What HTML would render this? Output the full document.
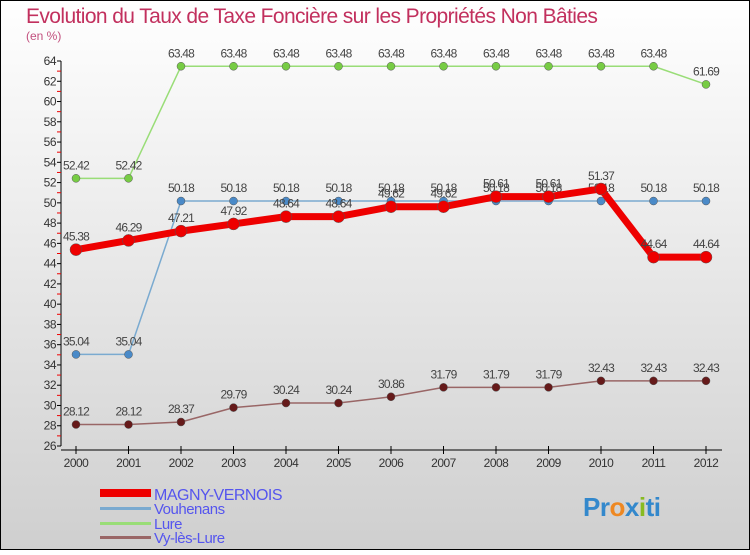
<!DOCTYPE html>
<html><head><meta charset="utf-8"><style>
html,body{margin:0;padding:0}
body{width:750px;height:550px;overflow:hidden;font-family:"Liberation Sans",sans-serif}
</style></head><body>
<svg id="c" width="750" height="550" xmlns="http://www.w3.org/2000/svg">
<defs><linearGradient id="bg" x1="0" y1="0" x2="0" y2="1"><stop offset="0" stop-color="#ffffff"/><stop offset="1" stop-color="#cfcfcf"/></linearGradient></defs>
<rect x="0.5" y="0.5" width="749" height="549" fill="url(#bg)" stroke="#000"/>
<text x="26" y="23" font-size="21" fill="#c2305e" letter-spacing="-0.6">Evolution du Taux de Taxe Foncière sur les Propriétés Non Bâties</text>
<text x="26" y="40" font-size="12" fill="#c2507e">(en %)</text>
<g id="axes"></g><g id="series"></g>
<g>
<rect x="100" y="489" width="51" height="8" fill="#ee0000"/>
<text x="154" y="500" font-size="16" fill="#5555ee" letter-spacing="-0.5">MAGNY-VERNOIS</text>
<rect x="100" y="507" width="51" height="3" fill="#7aaad0"/>
<text x="154" y="514" font-size="15" fill="#5555ee" letter-spacing="-0.5">Vouhenans</text>
<rect x="100" y="522" width="51" height="3" fill="#99dd77"/>
<text x="154" y="529" font-size="15" fill="#5555ee" letter-spacing="-0.5">Lure</text>
<rect x="100" y="536" width="51" height="3" fill="#996666"/>
<text x="154" y="543" font-size="15" fill="#5555ee" letter-spacing="-0.5">Vy-lès-Lure</text>
</g>
<g><text x="583" y="516" font-size="26" font-weight="bold" letter-spacing="-0.5"><tspan fill="#3388cc">Pr</tspan><tspan fill="#ee8822">o</tspan><tspan fill="#3388cc">x</tspan><tspan fill="#88bb22">i</tspan><tspan fill="#3388cc">ti</tspan></text></g>
</svg>
<script>
const years=["2000","2001","2002","2003","2004","2005","2006","2007","2008","2009","2010","2011","2012"];
const magny=[45.38,46.29,47.21,47.92,48.64,48.64,49.62,49.62,50.61,50.61,51.37,44.64,44.64];
const vouhenans=[35.04,35.04,50.18,50.18,50.18,50.18,50.18,50.18,50.18,50.18,50.18,50.18,50.18];
const lure=[52.42,52.42,63.48,63.48,63.48,63.48,63.48,63.48,63.48,63.48,63.48,63.48,61.69];
const vy=[28.12,28.12,28.37,29.79,30.24,30.24,30.86,31.79,31.79,31.79,32.43,32.43,32.43];
const yTicks=[26,28,30,32,34,36,38,40,42,44,46,48,50,52,54,56,58,60,62,64];
const NS="http://www.w3.org/2000/svg";
const X=i=>76+i*52.5;
const Y=v=>446-(v-26)*(385/38);
function mk(p,t,a){const e=document.createElementNS(NS,t);for(const k in a)e.setAttribute(k,a[k]);p.appendChild(e);return e;}
const ax=document.getElementById('axes');
const yl=mk(ax,'line',{x1:61,y1:Y(64),x2:61,y2:Y(26),stroke:'#000'});


yTicks.forEach(v=>{
 mk(ax,'line',{x1:57,x2:61,y1:Y(v),y2:Y(v),stroke:'#000'});
 if(v<64) mk(ax,'line',{x1:57,x2:61,y1:Y(v+1),y2:Y(v+1),stroke:'#e00'});
 const t=mk(ax,'text',{x:56,y:Y(v)+4,'font-size':12,'text-anchor':'end',fill:'#333','letter-spacing':'-0.5'});
 t.textContent=v;
 
 
});
const xl=mk(ax,'line',{x1:61,y1:450,x2:722,y2:450,stroke:'#000'});


years.forEach((y,i)=>{
 mk(ax,'line',{x1:X(i),x2:X(i),y1:446,y2:454,stroke:'#000'});
 const t=mk(ax,'text',{x:X(i),y:467,'font-size':12,'text-anchor':'middle',fill:'#333','letter-spacing':'-0.5'});
 t.textContent=y;
 
 
});
const sg=document.getElementById('series');
function series(name,vals,color,dot,w,r){
 const g=mk(sg,'g',{});
 
 
 const pl=mk(g,'polyline',{points:vals.map((v,i)=>X(i)+','+Y(v)).join(' '),fill:'none',stroke:color,'stroke-width':w,'stroke-linejoin':'round'});
 
 
 vals.forEach((v,i)=>{
  const c=mk(g,'circle',{cx:X(i),cy:Y(v),r:r,fill:dot,stroke:'#555','stroke-width':0.5});
  
  
  const t=mk(g,'text',{x:X(i),y:Y(v)-9,'font-size':12,'text-anchor':'middle',fill:'#444','letter-spacing':'-0.8'});
  t.textContent=v.toFixed(2);
  
  
 });
}
series('lure',lure,'#99dd77','#77cc44',1.5,4);
series('vouhenans',vouhenans,'#7aaad0','#4a8ac8',1.5,4);
series('vy',vy,'#996666','#661a1a',1.5,4);
series('magny',magny,'#ee0000','#ee0000',7,6);
</script>
</body></html>
